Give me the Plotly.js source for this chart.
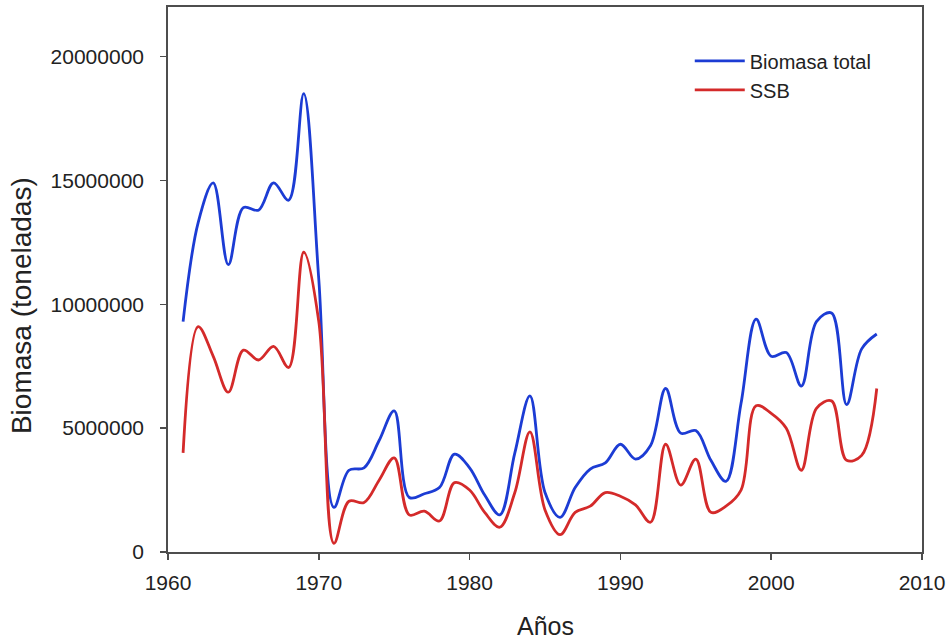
<!DOCTYPE html>
<html>
<head>
<meta charset="utf-8">
<script src="https://cdn.plot.ly/plotly-3.0.1.min.js"></script>
<style>html,body{margin:0;padding:0;background:#fff;}#chart{width:950px;height:643px;}</style>
</head>
<body>
<div id="chart"></div>
<script>
const years = [1961,1962,1963,1964,1965,1966,1967,1968,1969,1970,
  1971,1972,1973,1974,1975,1976,1977,1978,1979,1980,
  1981,1982,1983,1984,1985,1986,1987,1988,1989,1990,
  1991,1992,1993,1994,1995,1996,1997,1998,1999,2000,
  2001,2002,2003,2004,2005,2006,2007];

const biomasaTotal = [9300000,13300000,14900000,11600000,13900000,13800000,14900000,14200000,18500000,11000000,
  1800000,3300000,3400000,4500000,5700000,2200000,2350000,2600000,3950000,3400000,
  2300000,1500000,4000000,6300000,2400000,1400000,2600000,3350000,3600000,4350000,
  3750000,4300000,6600000,4800000,4900000,3700000,2850000,6000000,9400000,7900000,
  8050000,6700000,9300000,9650000,5950000,8200000,8800000];

const ssb = [4000000,9100000,7900000,6450000,8150000,7750000,8300000,7450000,12100000,9300000,
  350000,2050000,2000000,2900000,3800000,1500000,1650000,1250000,2800000,2500000,
  1600000,1000000,2400000,4850000,1700000,700000,1600000,1850000,2400000,2250000,
  1900000,1200000,4350000,2700000,3750000,1600000,1850000,2500000,5900000,5600000,
  5000000,3300000,5800000,6100000,3700000,3900000,6600000];

const seriesNames = ["Biomasa total", "SSB"];
const xTicks = [1960,1970,1980,1990,2000,2010];
const yTicks = [0,5000000,10000000,15000000,20000000];

const FONT = "Liberation Sans, Arial, sans-serif";
const frame = "#4d4d4d";

const traces = [
  {x: years, y: biomasaTotal, name: seriesNames[0], type: "scatter", mode: "lines",
   line: {color: "#1c3cd4", width: 2.8, shape: "spline", smoothing: 1}},
  {x: years, y: ssb, name: seriesNames[1], type: "scatter", mode: "lines",
   line: {color: "#d42a2a", width: 2.8, shape: "spline", smoothing: 1}}
];

const layout = {
  width: 950, height: 643,
  margin: {l: 168, r: 28, t: 7, b: 91},
  paper_bgcolor: "#fff", plot_bgcolor: "#fff",
  font: {family: FONT, color: "#222", size: 20},
  showlegend: true,
  legend: {x: 0.692, y: 0.937, xanchor: "left", yanchor: "top",
    bgcolor: "rgba(0,0,0,0)", font: {size: 20, family: FONT, color: "#222"},
    tracegroupgap: 0, itemwidth: 50},
  xaxis: {range: [1960, 2010], tickvals: xTicks, ticktext: xTicks.map(String),
    ticks: "outside", ticklen: 6, tickwidth: 1.5, tickcolor: frame,
    showline: true, linecolor: frame, linewidth: 1.8, mirror: true,
    showgrid: false, zeroline: false, ticklabelstandoff: 5,
    tickfont: {size: 21, family: FONT, color: "#222"}},
  yaxis: {range: [0, 22000000], tickvals: yTicks, ticktext: yTicks.map(String),
    ticks: "outside", ticklen: 6, tickwidth: 1.5, tickcolor: frame,
    showline: true, linecolor: frame, linewidth: 1.8, mirror: true,
    showgrid: false, zeroline: false, ticklabelstandoff: 12,
    tickfont: {size: 21, family: FONT, color: "#222"}},
  annotations: [
    {text: "Biomasa (toneladas)", xref: "paper", yref: "paper", x: -0.195, y: 0.453,
     xanchor: "center", yanchor: "middle", textangle: -90, showarrow: false,
     font: {size: 28, family: FONT, color: "#222"}},
    {text: "Años", xref: "paper", yref: "paper", x: 0.5, y: -0.135,
     xanchor: "center", yanchor: "middle", showarrow: false,
     font: {size: 25, family: FONT, color: "#222"}}
  ]
};

Plotly.newPlot("chart", traces, layout, {staticPlot: true, displayModeBar: false});
</script>
</body>
</html>
